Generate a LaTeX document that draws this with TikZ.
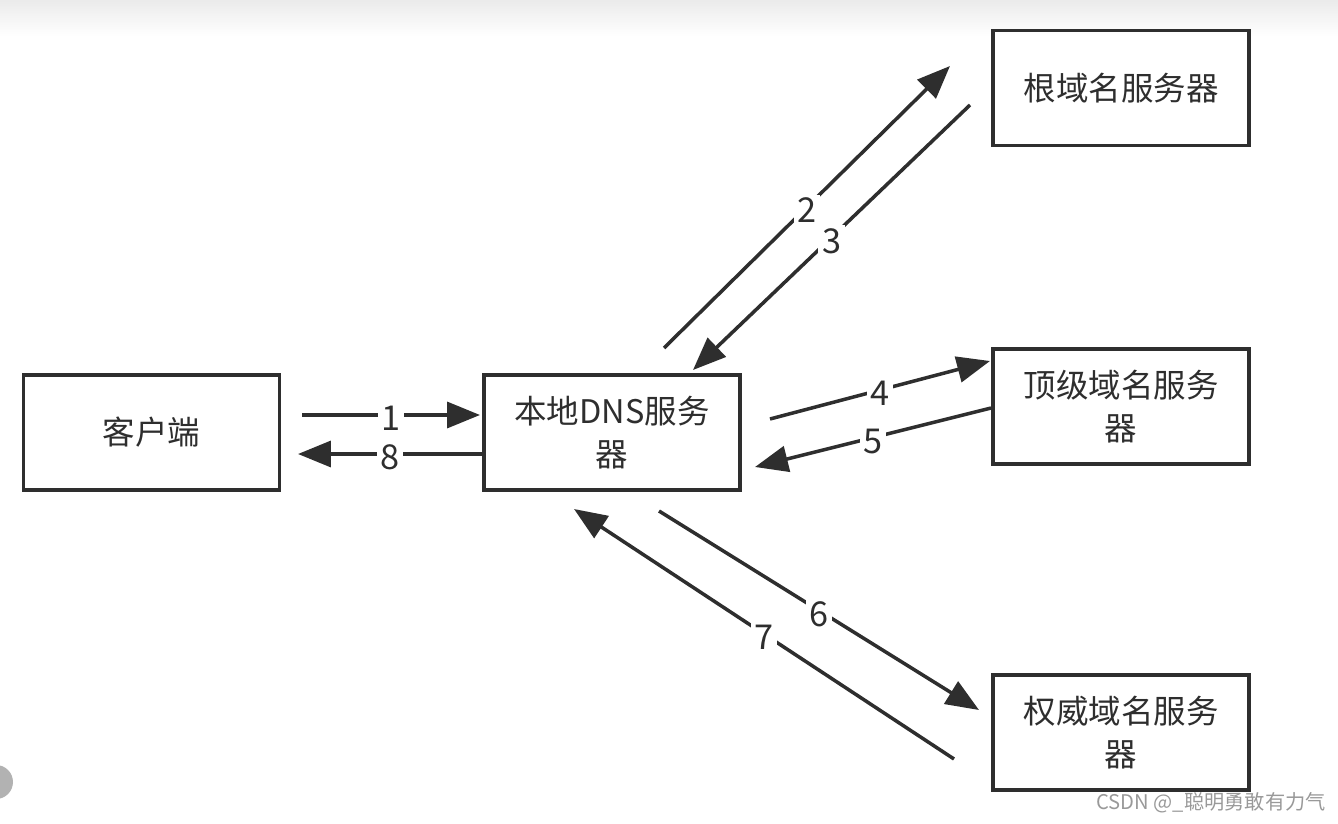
\documentclass[tikz,border=0pt]{standalone}
\usepackage{fontspec}
\setmainfont{Noto Sans CJK SC}
\usetikzlibrary{arrows.meta}
\definecolor{ink}{HTML}{2E2E2E}
\begin{document}
\begin{tikzpicture}[x=0.02cm,y=-0.02cm,>={Triangle[length=0.66cm,width=0.52cm]}]
	\fontsize{18.5}{24.5}\selectfont
	\tikzstyle{s-node}=[rectangle,draw=ink,line width=2pt,minimum width=5.12cm,minimum height=2.3cm,align=center,text=ink,inner sep=0pt]
	\tikzstyle{num}=[fill=white,inner sep=2pt,text=ink,yshift=-2pt,font=\fontsize{19.5}{24}\selectfont]
	\tikzstyle{every edge}=[draw=ink,line width=2pt,->]
	\useasboundingbox (0,0) rectangle (1338,824);
	% screenshot shading
	\shade[top color=black!8,bottom color=white] (0,0) rectangle (1338,36);
	\fill[black!30] (-4,782) circle (17);

	% servers
	\node[s-node] 	(client)	at (151.5,432.5)	{\raisebox{-3pt}{客户端}};
	\node[s-node] 	(local)	at (612,432.5)	{本地DNS服务\\器};
	\node[s-node] 	(root)	at (1121,88)	{\raisebox{-3pt}{根域名服务器}};
	\node[s-node] 	(tld)	at (1121,406.5)	{顶级域名服务\\器};
	\node[s-node] 	(auth)	at (1121,732.5)	{权威域名服务\\器};

	% arrow ends
	\coordinate (a1) at (302,415);	\coordinate (b1) at (480,415);
	\coordinate (a8) at (482,454);	\coordinate (b8) at (298,454);
	\coordinate (a2) at (664,348);	\coordinate (b2) at (950,66);
	\coordinate (a3) at (970,105);	\coordinate (b3) at (693,370);
	\coordinate (a4) at (770,419);	\coordinate (b4) at (990,361);
	\coordinate (a5) at (991,408);	\coordinate (b5) at (755,467);
	\coordinate (a6) at (659,511);	\coordinate (b6) at (979,710);
	\coordinate (a7) at (954,759);	\coordinate (b7) at (574,509);

	\path
		(a1)	edge	node [num]	{1}	(b1)
		(a8)	edge	node [num]	{8}	(b8)
		(a2)	edge	node [num]	{2}	(b2)
		(a3)	edge	node [num]	{3}	(b3)
		(a4)	edge	node [num]	{4}	(b4)
		(a5)	edge	node [num]	{5}	(b5)
		(a6)	edge	node [num]	{6}	(b6)
		(a7)	edge	node [num]	{7}	(b7);

	\node[text=black!40,font=\fontsize{11.5}{14}\selectfont] (mark) at (1211,803) {CSDN @\_聪明勇敢有力气};
\end{tikzpicture}
\end{document}
